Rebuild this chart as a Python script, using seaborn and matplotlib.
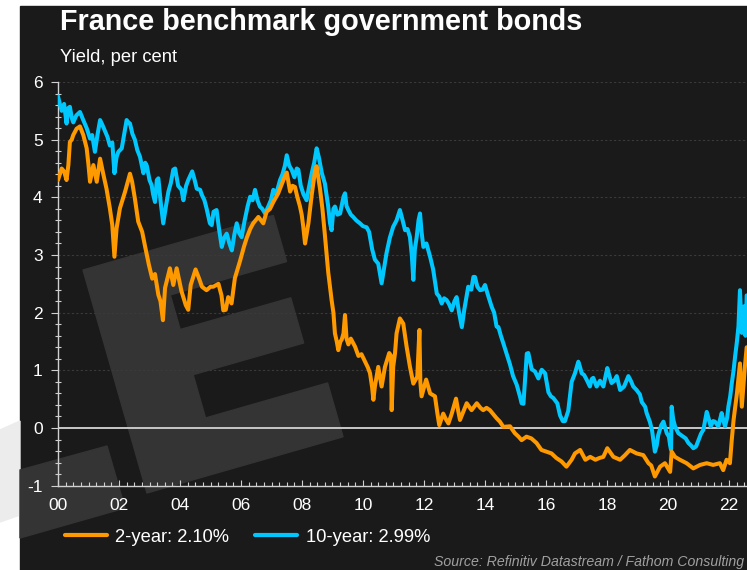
import numpy as np
import pandas as pd
import matplotlib
matplotlib.use("Agg")
import matplotlib.pyplot as plt
from matplotlib.patches import Rectangle, Polygon
from matplotlib.lines import Line2D
from matplotlib.ticker import MultipleLocator
import seaborn as sns

# 10-year yield (per cent), decimal years
years_10y = [
    2000.00, 2000.06, 2000.12, 2000.20, 2000.28, 2000.34, 2000.39, 2000.45, 2000.50, 2000.60,
    2000.72, 2000.82, 2000.94, 2001.05, 2001.12, 2001.21, 2001.30, 2001.38, 2001.46, 2001.54,
    2001.62, 2001.70, 2001.78, 2001.85, 2001.92, 2001.98, 2002.09, 2002.17, 2002.25, 2002.31,
    2002.36, 2002.44, 2002.52, 2002.60, 2002.69, 2002.80, 2002.86, 2002.91, 2003.00, 2003.07,
    2003.12, 2003.18, 2003.24, 2003.29, 2003.37, 2003.45, 2003.54, 2003.62, 2003.70, 2003.78,
    2003.84, 2003.94, 2004.05, 2004.11, 2004.20, 2004.27, 2004.40, 2004.48, 2004.55, 2004.66,
    2004.71, 2004.80, 2004.87, 2004.98, 2005.04, 2005.10, 2005.20, 2005.28, 2005.37, 2005.45,
    2005.53, 2005.62, 2005.70, 2005.78, 2005.86, 2005.94, 2006.02, 2006.12, 2006.22, 2006.30,
    2006.38, 2006.46, 2006.54, 2006.62, 2006.70, 2006.79, 2006.90, 2006.98, 2007.06, 2007.15,
    2007.28, 2007.36, 2007.44, 2007.50, 2007.58, 2007.66, 2007.75, 2007.83, 2007.88, 2007.96,
    2008.05, 2008.15, 2008.22, 2008.32, 2008.40, 2008.48, 2008.55, 2008.65, 2008.75, 2008.86,
    2008.92, 2008.97, 2009.03, 2009.08, 2009.16, 2009.25, 2009.36, 2009.41, 2009.46, 2009.52,
    2009.60, 2009.68, 2009.78, 2009.90, 2010.00, 2010.12, 2010.20, 2010.30, 2010.39, 2010.50,
    2010.61, 2010.70, 2010.77, 2010.88, 2010.99, 2011.10, 2011.21, 2011.30, 2011.38, 2011.46,
    2011.54, 2011.60, 2011.65, 2011.70, 2011.76, 2011.82, 2011.87, 2011.92, 2011.98, 2012.08,
    2012.20, 2012.30, 2012.42, 2012.50, 2012.58, 2012.66, 2012.74, 2012.82, 2012.91, 2013.00,
    2013.07, 2013.15, 2013.24, 2013.32, 2013.40, 2013.45, 2013.55, 2013.62, 2013.67, 2013.75,
    2013.84, 2013.92, 2014.00, 2014.10, 2014.22, 2014.30, 2014.38, 2014.44, 2014.52, 2014.60,
    2014.70, 2014.82, 2014.92, 2015.04, 2015.15, 2015.20, 2015.26, 2015.32, 2015.37, 2015.42,
    2015.48, 2015.53, 2015.64, 2015.75, 2015.86, 2015.97, 2016.08, 2016.16, 2016.24, 2016.37,
    2016.46, 2016.55, 2016.62, 2016.73, 2016.84, 2016.95, 2017.06, 2017.12, 2017.17, 2017.25,
    2017.33, 2017.44, 2017.50, 2017.55, 2017.66, 2017.77, 2017.88, 2018.01, 2018.08, 2018.15,
    2018.24, 2018.32, 2018.43, 2018.56, 2018.70, 2018.78, 2018.86, 2018.97, 2019.08, 2019.14,
    2019.25, 2019.30, 2019.41, 2019.48, 2019.52, 2019.57, 2019.63, 2019.68, 2019.78, 2019.85,
    2019.96, 2020.03, 2020.07, 2020.10, 2020.12, 2020.17, 2020.23, 2020.34, 2020.42, 2020.50,
    2020.58, 2020.67, 2020.75, 2020.83, 2020.92, 2021.00, 2021.08, 2021.16, 2021.27, 2021.34,
    2021.40, 2021.48, 2021.54, 2021.65, 2021.76, 2021.82, 2021.87, 2021.94, 2021.98, 2022.04,
    2022.09, 2022.15, 2022.20, 2022.26, 2022.31, 2022.36, 2022.42, 2022.49, 2022.54, 2022.58,
]
yield_10y = [
    5.75, 5.62, 5.50, 5.62, 5.28, 5.55, 5.57, 5.38, 5.30, 5.42,
    5.48, 5.35, 5.20, 5.02, 5.08, 4.79, 5.10, 5.34, 5.25, 5.15,
    5.05, 4.90, 4.95, 4.42, 4.70, 4.79, 4.85, 5.10, 5.34, 5.30,
    5.28, 5.10, 5.00, 4.82, 4.70, 4.42, 4.60, 4.55, 4.30, 4.21,
    4.05, 3.92, 4.30, 4.33, 3.90, 3.55, 3.85, 4.10, 4.25, 4.48,
    4.50, 4.20, 4.13, 3.95, 4.20, 4.30, 4.45, 4.30, 4.15, 4.13,
    4.05, 3.95, 3.81, 3.55, 3.52, 3.75, 3.78, 3.45, 3.14, 3.30,
    3.37, 3.20, 3.08, 3.35, 3.55, 3.38, 3.31, 3.60, 3.85, 4.01,
    3.95, 4.13, 3.95, 3.84, 3.80, 3.72, 3.85, 3.95, 4.13, 4.05,
    4.30, 4.40, 4.55, 4.73, 4.55, 4.48, 4.35, 4.50, 4.48, 4.20,
    4.05, 3.95, 4.15, 4.42, 4.60, 4.85, 4.70, 4.42, 4.24, 3.84,
    3.55, 3.43, 3.80, 3.84, 3.70, 3.72, 4.01, 4.07, 3.85, 3.78,
    3.70, 3.66, 3.60, 3.55, 3.50, 3.48, 3.40, 3.10, 2.92, 2.85,
    2.51, 2.80, 3.03, 3.30, 3.49, 3.60, 3.78, 3.60, 3.43, 3.45,
    3.31, 3.00, 2.57, 3.10, 3.31, 3.60, 3.72, 3.40, 3.14, 3.20,
    2.97, 2.75, 2.33, 2.28, 2.16, 2.25, 2.22, 2.15, 2.04, 2.20,
    2.27, 2.00, 1.75, 2.05, 2.30, 2.45, 2.40, 2.62, 2.62, 2.45,
    2.39, 2.40, 2.48, 2.30, 2.10, 2.00, 1.76, 1.75, 1.60, 1.47,
    1.30, 1.10, 0.90, 0.75, 0.54, 0.43, 0.42, 0.90, 1.29, 1.30,
    1.15, 1.02, 0.98, 0.86, 1.01, 0.95, 0.62, 0.55, 0.52, 0.43,
    0.22, 0.12, 0.12, 0.30, 0.80, 0.95, 1.15, 1.05, 0.95, 0.92,
    0.84, 0.72, 0.85, 0.87, 0.72, 0.82, 0.72, 1.04, 0.90, 0.78,
    0.82, 0.90, 0.66, 0.72, 0.90, 0.82, 0.72, 0.66, 0.58, 0.45,
    0.37, 0.26, 0.10, -0.05, -0.21, -0.41, -0.30, -0.12, 0.05, 0.11,
    -0.09, -0.15, -0.30, -0.38, 0.37, 0.15, 0.03, -0.09, -0.12, -0.15,
    -0.18, -0.26, -0.30, -0.35, -0.32, -0.21, -0.10, -0.03, 0.28, 0.15,
    0.03, 0.12, 0.11, 0.03, 0.26, 0.12, 0.03, 0.18, 0.37, 0.55,
    0.77, 1.00, 1.24, 1.50, 1.76, 2.39, 1.65, 2.11, 1.60, 2.30,
]

# 2-year yield (per cent)
years_2y = [
    2000.00, 2000.06, 2000.12, 2000.20, 2000.28, 2000.34, 2000.39, 2000.45, 2000.50, 2000.61,
    2000.72, 2000.83, 2000.94, 2001.00, 2001.05, 2001.16, 2001.27, 2001.38, 2001.49, 2001.59,
    2001.70, 2001.78, 2001.85, 2001.92, 2002.03, 2002.20, 2002.36, 2002.43, 2002.52, 2002.63,
    2002.76, 2002.87, 2002.98, 2003.09, 2003.18, 2003.29, 2003.36, 2003.44, 2003.51, 2003.67,
    2003.78, 2003.89, 2004.05, 2004.19, 2004.27, 2004.35, 2004.51, 2004.62, 2004.72, 2004.87,
    2005.00, 2005.09, 2005.26, 2005.36, 2005.42, 2005.50, 2005.58, 2005.69, 2005.80, 2005.97,
    2006.10, 2006.19, 2006.30, 2006.40, 2006.57, 2006.73, 2006.84, 2006.95, 2007.06, 2007.22,
    2007.39, 2007.50, 2007.61, 2007.69, 2007.77, 2007.85, 2007.93, 2007.99, 2008.04, 2008.10,
    2008.21, 2008.32, 2008.43, 2008.48, 2008.59, 2008.67, 2008.75, 2008.86, 2008.97, 2009.03,
    2009.08, 2009.14, 2009.19, 2009.26, 2009.30, 2009.36, 2009.41, 2009.46, 2009.52, 2009.60,
    2009.68, 2009.74, 2009.85, 2009.95, 2010.07, 2010.16, 2010.23, 2010.30, 2010.34, 2010.39,
    2010.50, 2010.61, 2010.72, 2010.86, 2010.92, 2010.94, 2010.99, 2011.05, 2011.10, 2011.21,
    2011.32, 2011.43, 2011.54, 2011.65, 2011.78, 2011.85, 2011.88, 2011.92, 2012.07, 2012.20,
    2012.36, 2012.44, 2012.50, 2012.63, 2012.72, 2012.80, 2012.91, 2013.05, 2013.12, 2013.18,
    2013.30, 2013.40, 2013.56, 2013.73, 2013.85, 2013.94, 2014.05, 2014.16, 2014.30, 2014.38,
    2014.49, 2014.60, 2014.82, 2014.98, 2015.10, 2015.20, 2015.36, 2015.52, 2015.69, 2015.85,
    2016.02, 2016.18, 2016.34, 2016.51, 2016.67, 2016.84, 2016.95, 2017.12, 2017.29, 2017.45,
    2017.62, 2017.75, 2017.88, 2018.01, 2018.21, 2018.43, 2018.59, 2018.75, 2018.97, 2019.19,
    2019.36, 2019.45, 2019.57, 2019.74, 2019.90, 2020.07, 2020.12, 2020.23, 2020.39, 2020.61,
    2020.83, 2021.05, 2021.27, 2021.48, 2021.70, 2021.81, 2021.92, 2022.03, 2022.09, 2022.15,
    2022.26, 2022.36, 2022.42, 2022.52, 2022.58,
]
yield_2y = [
    4.30, 4.40, 4.50, 4.45, 4.30, 4.56, 4.96, 5.00, 5.08, 5.19,
    5.23, 5.08, 4.85, 4.56, 4.27, 4.56, 4.27, 4.67, 4.39, 4.15,
    3.81, 3.52, 2.97, 3.46, 3.81, 4.10, 4.41, 4.27, 3.98, 3.58,
    3.40, 3.11, 2.83, 2.59, 2.67, 2.31, 2.20, 1.87, 2.43, 2.77,
    2.48, 2.77, 2.37, 2.13, 2.05, 2.48, 2.75, 2.60, 2.45, 2.39,
    2.45, 2.45, 2.50, 2.30, 2.04, 2.05, 2.27, 2.16, 2.60, 2.90,
    3.15, 3.30, 3.45, 3.55, 3.66, 3.55, 3.75, 3.80, 3.92, 4.07,
    4.30, 4.43, 4.10, 4.20, 4.18, 4.00, 3.85, 3.70, 3.50, 3.20,
    3.55, 4.05, 4.47, 4.54, 4.15, 3.80, 3.35, 2.70, 2.22, 2.00,
    1.64, 1.50, 1.35, 1.50, 1.53, 1.64, 1.96, 1.55, 1.45, 1.55,
    1.47, 1.41, 1.25, 1.28, 1.15, 1.05, 0.95, 0.70, 0.49, 0.72,
    1.06, 0.72, 1.06, 1.30, 1.25, 0.31, 1.06, 1.30, 1.64, 1.90,
    1.81, 1.41, 1.06, 0.77, 0.89, 1.70, 0.80, 0.55, 0.84, 0.60,
    0.55, 0.25, 0.05, 0.25, 0.15, 0.08, 0.25, 0.51, 0.30, 0.14,
    0.30, 0.43, 0.31, 0.43, 0.35, 0.31, 0.35, 0.31, 0.22, 0.17,
    0.11, 0.02, 0.03, -0.09, -0.15, -0.21, -0.15, -0.18, -0.26, -0.38,
    -0.41, -0.44, -0.52, -0.58, -0.67, -0.55, -0.44, -0.38, -0.55, -0.50,
    -0.55, -0.52, -0.50, -0.35, -0.50, -0.55, -0.47, -0.38, -0.44, -0.47,
    -0.61, -0.65, -0.84, -0.67, -0.61, -0.76, -0.41, -0.50, -0.55, -0.61,
    -0.70, -0.64, -0.61, -0.64, -0.61, -0.73, -0.55, -0.61, -0.21, 0.14,
    0.60, 1.12, 0.37, 1.06, 1.40,
]

series_labels = ["2-year: 2.10%", "10-year: 2.99%"]
year_ticks = list(range(2000, 2023, 2))
year_ticklabels = [f"{y % 100:02d}" for y in year_ticks]

ORANGE = "#ff9900"
BLUE = "#00c8ff"
BG = "#1a1a1a"
MARK = "#343434"

W, H = 747, 570


def fig_xy(x, y):
    """pixel position (origin top-left) -> figure fraction"""
    return (x / W, 1 - y / H)


def logo_outline():
    # rotated "E" watermark, local coords (u along arms, v down the stem)
    ox, oy = 83, 270
    th = np.deg2rad(16)
    a = np.array([np.cos(th), -np.sin(th)])
    s = np.array([np.sin(th), np.cos(th)])
    uv = [(0, 0), (198, 0), (198, 48), (77, 48), (77, 84), (192, 84), (192, 131),
          (77, 131), (77, 176), (204, 176), (204, 232), (0, 232)]
    pts = [np.array([ox, oy]) + u * a + v * s for u, v in uv]
    return [fig_xy(p[0], p[1]) for p in pts]


sns.set_theme(style="dark")
plt.rcParams["font.family"] = ["Liberation Sans", "DejaVu Sans"]
plt.rcParams["axes.unicode_minus"] = False

fig = plt.figure(figsize=(W / 100, H / 100), dpi=100)
fig.patch.set_facecolor("white")

# dark panel and watermark
fig.patches.append(Rectangle(fig_xy(20, 570), 1 - 20 / W, 1 - 6 / H,
                             transform=fig.transFigure, color=BG, zorder=-10))
fig.patches.append(Polygon([fig_xy(0, 430), fig_xy(20, 421), fig_xy(20, 515), fig_xy(0, 522)],
                           closed=True, transform=fig.transFigure, color="#ececec", zorder=-9))
fig.patches.append(Polygon(logo_outline(), closed=True, transform=fig.transFigure,
                           color=MARK, zorder=-9))
fig.patches.append(Polygon([fig_xy(20, 470), fig_xy(107, 446), fig_xy(125, 508), fig_xy(20, 538)],
                           closed=True, transform=fig.transFigure, color=MARK, zorder=-9))

ax = fig.add_axes([58 / W, 1 - 485.7 / H, 689 / W, (485.7 - 82) / H])
ax.set_facecolor("none")

sns.lineplot(x=years_10y, y=yield_10y, ax=ax, color=BLUE, linewidth=2.9,
             estimator=None, sort=False, zorder=3)
sns.lineplot(x=years_2y, y=yield_2y, ax=ax, color=ORANGE, linewidth=2.9,
             estimator=None, sort=False, zorder=4)

ax.axhline(0, color="#c8c8c8", linewidth=1.4, zorder=2)

ax.set_xlim(2000, 2000 + 689 / 30.5)
ax.set_ylim(-1, 6)
ax.set_xticks(year_ticks)
ax.set_xticklabels(year_ticklabels)
ax.xaxis.set_minor_locator(MultipleLocator(0.25))
ax.set_yticks(range(-1, 7))
ax.yaxis.set_minor_locator(MultipleLocator(0.2))
ax.set_xlabel("")
ax.set_ylabel("")

ax.grid(False)
for yv in range(1, 7):
    ax.axhline(yv, color="#3a3a3a", linewidth=0.8, linestyle=(0, (2, 2)), zorder=1)

for side in ["top", "right"]:
    ax.spines[side].set_visible(False)
for side in ["left", "bottom"]:
    ax.spines[side].set_visible(True)
    ax.spines[side].set_color("#d0d0d0")
    ax.spines[side].set_linewidth(1.0)

ax.tick_params(axis="x", which="major", direction="in", length=4, width=0.8,
               color="#d0d0d0", labelcolor="white", labelsize=12.5, pad=9, bottom=True)
ax.tick_params(axis="x", which="minor", direction="in", length=3, width=0.8,
               color="#d0d0d0", bottom=True)
ax.tick_params(axis="y", which="major", direction="out", length=5, width=0.8,
               color="#d0d0d0", labelcolor="white", labelsize=12.5, pad=6, left=True)
ax.tick_params(axis="y", which="minor", direction="inout", length=4, width=0.8,
               color="#d0d0d0", left=True)

# titles
fig.text(*fig_xy(60, 22), "France benchmark government bonds", color="white",
         fontsize=20.7, fontweight="bold", va="center", ha="left")
fig.text(*fig_xy(60, 57), "Yield, per cent", color="white",
         fontsize=13.2, va="center", ha="left")

# legend
handles = [Line2D([], [], color=ORANGE, linewidth=3),
           Line2D([], [], color=BLUE, linewidth=3)]
fig.legend(handles, series_labels, loc="center left", bbox_to_anchor=fig_xy(65, 537),
           ncol=2, frameon=False, fontsize=13.2, labelcolor="white",
           handlelength=2.3, handletextpad=0.45, columnspacing=1.4,
           borderpad=0, borderaxespad=0)

fig.text(*fig_xy(744, 562), "Source: Refinitiv Datastream / Fathom Consulting",
         color="#a0a0a0", fontsize=10.2, style="italic", va="center", ha="right")

fig.savefig("out.png", dpi=100, facecolor=fig.get_facecolor())
